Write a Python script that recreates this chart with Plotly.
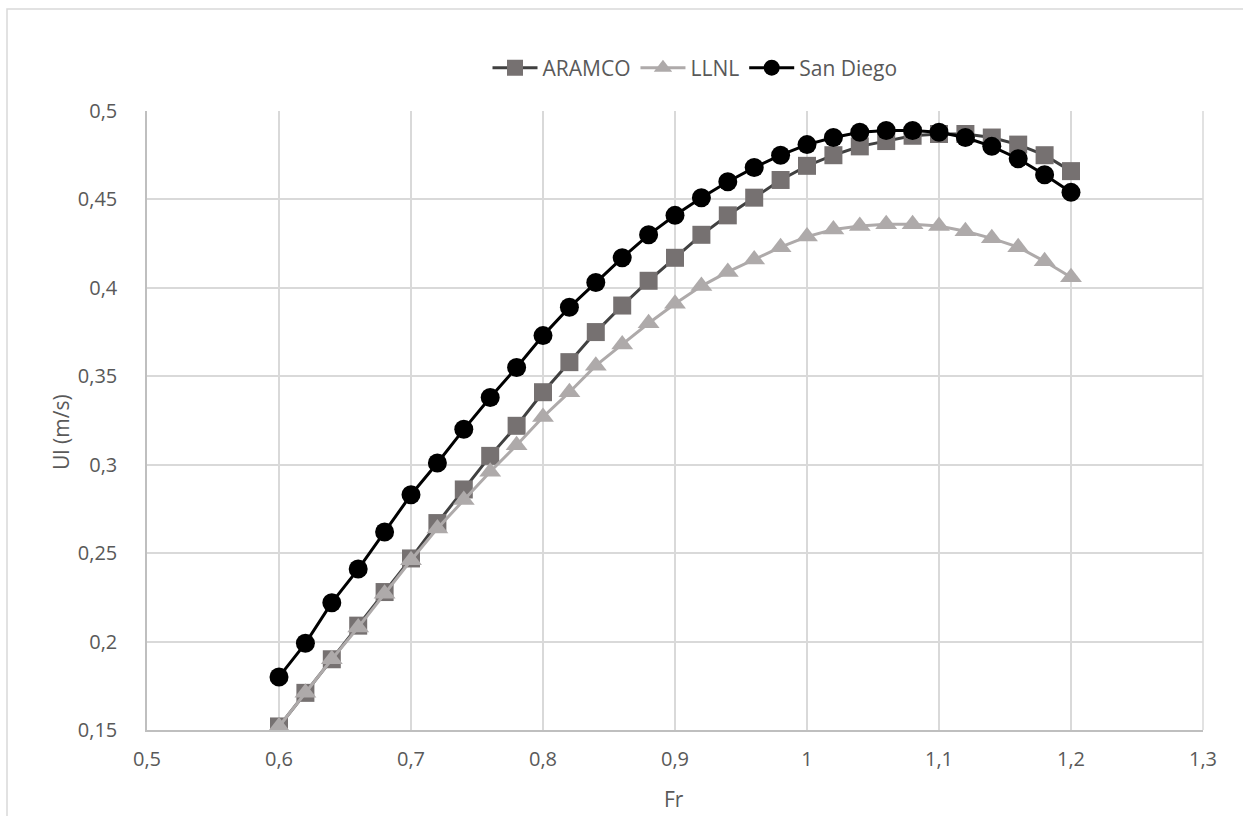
import plotly.graph_objects as go

fr = [0.60, 0.62, 0.64, 0.66, 0.68, 0.70, 0.72, 0.74, 0.76, 0.78, 0.80,
      0.82, 0.84, 0.86, 0.88, 0.90, 0.92, 0.94, 0.96, 0.98, 1.00,
      1.02, 1.04, 1.06, 1.08, 1.10, 1.12, 1.14, 1.16, 1.18, 1.20]

aramco = [0.152, 0.171, 0.190, 0.209, 0.228, 0.247, 0.267, 0.286, 0.305, 0.322, 0.341,
          0.358, 0.375, 0.390, 0.404, 0.417, 0.430, 0.441, 0.451, 0.461, 0.469,
          0.475, 0.480, 0.483, 0.486, 0.487, 0.487, 0.485, 0.481, 0.475, 0.466]

llnl = [0.152, 0.171, 0.190, 0.208, 0.227, 0.246, 0.264, 0.280, 0.296, 0.311, 0.327,
        0.341, 0.356, 0.368, 0.380, 0.391, 0.401, 0.409, 0.416, 0.423, 0.429,
        0.433, 0.435, 0.436, 0.436, 0.435, 0.432, 0.428, 0.423, 0.415, 0.406]

san_diego = [0.180, 0.199, 0.222, 0.241, 0.262, 0.283, 0.301, 0.320, 0.338, 0.355, 0.373,
             0.389, 0.403, 0.417, 0.430, 0.441, 0.451, 0.460, 0.468, 0.475, 0.481,
             0.485, 0.488, 0.489, 0.489, 0.488, 0.485, 0.480, 0.473, 0.464, 0.454]

x_ticks = [0.5, 0.6, 0.7, 0.8, 0.9, 1.0, 1.1, 1.2, 1.3]
x_tick_labels = ["0,5", "0,6", "0,7", "0,8", "0,9", "1", "1,1", "1,2", "1,3"]
y_ticks = [0.15, 0.2, 0.25, 0.3, 0.35, 0.4, 0.45, 0.5]
y_tick_labels = ["0,15", "0,2", "0,25", "0,3", "0,35", "0,4", "0,45", "0,5"]

x_title = "Fr"
y_title = "Ul (m/s)"

FONT = "Open Sans"
TXT = "#595959"
GRID = "#d9d9d9"

fig = go.Figure()
fig.add_trace(go.Scatter(
    x=fr, y=aramco, name="ARAMCO", mode="lines+markers",
    line=dict(color="#404040", width=3),
    marker=dict(symbol="square", size=18, color="#767171"),
))
fig.add_trace(go.Scatter(
    x=fr, y=llnl, name="LLNL", mode="lines+markers",
    line=dict(color="#aeaaaa", width=3),
    marker=dict(symbol="triangle-up", size=19, color="#aeaaaa"),
))
fig.add_trace(go.Scatter(
    x=fr, y=san_diego, name="San Diego", mode="lines+markers",
    line=dict(color="#000000", width=3),
    marker=dict(symbol="circle", size=19, color="#000000"),
))

fig.update_layout(
    width=1243, height=816,
    margin=dict(l=147, r=40, t=111, b=86),
    paper_bgcolor="white", plot_bgcolor="white",
    font=dict(family=FONT, size=20, color=TXT),
    showlegend=True,
    legend=dict(orientation="h", x=(695 - 147) / 1056, xanchor="center",
                y=(730 - 68) / 619, yanchor="middle",
                font=dict(family=FONT, size=21, color=TXT), bgcolor="rgba(0,0,0,0)",
                itemwidth=45, tracegroupgap=0),
    xaxis=dict(range=[0.5, 1.3], tickvals=x_ticks, ticktext=x_tick_labels,
               showgrid=True, gridcolor=GRID, gridwidth=1.5, zeroline=False,
               showline=True, linecolor="#bfbfbf", linewidth=1.5,
               ticks="", ticklabelstandoff=10,
               tickfont=dict(family=FONT, size=20, color=TXT)),
    yaxis=dict(range=[0.15, 0.5], tickvals=y_ticks, ticktext=y_tick_labels,
               showgrid=True, gridcolor=GRID, gridwidth=1.5, zeroline=False,
               showline=True, linecolor="#bfbfbf", linewidth=1.5,
               ticks="", ticklabelstandoff=24,
               tickfont=dict(family=FONT, size=20, color=TXT)),
    annotations=[
        dict(text=x_title, xref="paper", yref="paper", x=(674 - 147) / 1056, y=(730 - 799) / 619,
             xanchor="center", yanchor="middle", showarrow=False,
             font=dict(family=FONT, size=21, color=TXT)),
        dict(text=y_title, xref="paper", yref="paper", x=(61 - 147) / 1056, y=(730 - 432) / 619,
             xanchor="center", yanchor="middle", showarrow=False, textangle=-90,
             font=dict(family=FONT, size=21, color=TXT)),
    ],
    shapes=[
        dict(type="rect", xref="paper", yref="paper",
             x0=(7 - 147) / 1056, x1=(1260 - 147) / 1056,
             y0=(730 - 840) / 619, y1=(730 - 9) / 619,
             line=dict(color=GRID, width=1.5), fillcolor="rgba(0,0,0,0)", layer="below"),
        dict(type="line", xref="paper", yref="paper", x0=1, x1=1, y0=0, y1=1,
             line=dict(color=GRID, width=1.5), layer="below"),
    ],
)

fig.write_html("out.html")
